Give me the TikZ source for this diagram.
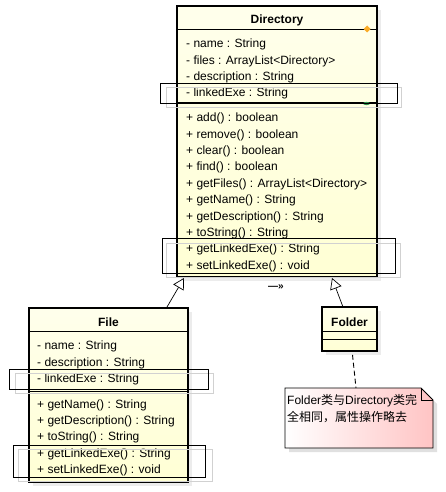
\documentclass[tikz,border=0pt]{standalone}
\usepackage{fontspec}
\setmainfont{Liberation Sans}
\newfontfamily\cjk{Noto Sans CJK SC}
\usepackage{tikz}
\usetikzlibrary{arrows.meta, calc, shadows}
\definecolor{umlYellow}{RGB}{255,255,212}
\definecolor{notePink}{RGB}{255,196,196}
\definecolor{handleOrange}{RGB}{250,172,40}
\definecolor{handleGreen}{RGB}{50,150,80}
\tikzset{
  classbox/.style={draw=black, line width=1.6pt, top color=umlYellow!45, bottom color=umlYellow,
    drop shadow={shadow xshift=4pt, shadow yshift=-4pt, fill=black!14}, inner sep=0pt},
  sepline/.style={draw=black, line width=0.8pt},
  classtitle/.style={anchor=base, inner sep=0pt, font=\fontsize{12}{14}\selectfont\bfseries},
  members/.style={anchor=north west, align=left, inner sep=0pt, font=\fontsize{12}{16.4}\selectfont},
  markbox/.style={draw=black, line width=0.7pt},
  markshade/.style={draw=black!18, line width=0.7pt},
  generalize/.style={-{Triangle[open, length=11pt, width=12pt, fill=white]}, line width=0.7pt},
}

\begin{document}
\begin{tikzpicture}[x=1pt, y=-1pt]
  \useasboundingbox[fill=white] (0,0) rectangle (446,492);

  % classes
  \node[classbox, minimum width=200pt, minimum height=271pt] (dir) at (277,141.5) {};
  \node[classbox, minimum width=159pt, minimum height=174pt] (file) at (108.5,395) {};
  \node[classbox, minimum width=55pt, minimum height=44pt] (folder) at (349.5,329) {};

  \draw[sepline] ($ (dir.north west)+(0,24) $) -- ($ (dir.north east)+(0,24) $);
  \draw[sepline] ($ (dir.north west)+(0,97) $) -- ($ (dir.north east)+(0,97) $);
  \draw[sepline] ($ (file.north west)+(0,24) $) -- ($ (file.north east)+(0,24) $);
  \draw[sepline] ($ (file.north west)+(0,84) $) -- ($ (file.north east)+(0,84) $);
  \draw[sepline] ($ (folder.north west)+(0,25) $) -- ($ (folder.north east)+(0,25) $);
  \draw[sepline] ($ (folder.north west)+(0,33) $) -- ($ (folder.north east)+(0,33) $);

  \node[classtitle] (dirTitle) at (277,23.5) {Directory};
  \node[classtitle] (fileTitle) at (108.5,326) {File};
  \node[classtitle] (folderTitle) at (349.5,326) {Folder};

  \node[members] (dirAttr) at (186,36) {\strut- name : String\\- files : ArrayList<Directory>\\- description : String\\- linkedExe : String};
  \node[members] (dirOps) at (186,110) {\strut+ add() : boolean\\+ remove() : boolean\\+ clear() : boolean\\+ find() : boolean\\+ getFiles() : ArrayList<Directory>\\+ getName() : String\\+ getDescription() : String\\+ toString() : String\\+ getLinkedExe() : String\\+ setLinkedExe() : void};
  \node[members] (fileAttr) at (37,338) {\strut- name : String\\- description : String\\- linkedExe : String};
  \node[members] (fileOps) at (37,396.5) {\strut+ getName() : String\\+ getDescription() : String\\+ toString() : String\\+ getLinkedExe() : String\\+ setLinkedExe() : void};

  % selection handles
  \fill[handleOrange] (367,25.5) -- (370.5,29) -- (367,32.5) -- (363.5,29) -- cycle;
  \fill[handleGreen] (366.5,103.5) ellipse (3.5pt and 1.6pt);

  % marked rows
  \draw[markshade] (166,87) rectangle (401,107);
  \draw[markbox] (160,83) rectangle (397,103);
  \draw[markshade] (166,243) rectangle (400,277);
  \draw[markbox] (162,238) rectangle (395,273);
  \draw[markshade] (15,373) rectangle (213,393);
  \draw[markbox] (9,369) rectangle (208,389);
  \draw[markshade] (18,449) rectangle (212,481);
  \draw[markbox] (13,445) rectangle (205,477);

  % inheritance
  \coordinate (fileTop) at (167,307);
  \coordinate (dirLeft) at (184,278);
  \coordinate (folderTop) at (343,307);
  \coordinate (dirRight) at (332,278);
  \draw[generalize] (fileTop) -- (dirLeft);
  \draw[generalize] (folderTop) -- (dirRight);
  \node[inner sep=0pt, font=\fontsize{10}{12}\selectfont\bfseries] (moveMark) at (276,287) {—»};

  % note
  \coordinate (noteNW) at (285,388);
  \coordinate (noteNE) at (433,388);
  \coordinate (noteSE) at (433,448);
  \coordinate (noteSW) at (285,448);
  \fill[black!12] ($ (noteNW)+(4,4) $) -- ($ (noteNE)+(-8,4) $) -- ($ (noteNE)+(4,16) $) -- ($ (noteSE)+(4,4) $) -- ($ (noteSW)+(4,4) $) -- cycle;
  \shade[left color=white, right color=notePink, draw=black, line width=0.8pt]
    (noteNW) -- ($ (noteNE)+(-12,0) $) -- ($ (noteNE)+(0,12) $) -- (noteSE) -- (noteSW) -- cycle;
  \draw[line width=0.8pt] ($ (noteNE)+(-12,0) $) -- ($ (noteNE)+(-12,12) $) -- ($ (noteNE)+(0,12) $);
  \node[anchor=base west, align=left, inner sep=0pt, font=\fontsize{12}{17}\selectfont] (noteText) at (287,421.5)
    {Folder{\cjk 类与}Directory{\cjk 类完}\\{\cjk 全相同，属性操作略去}};
  \coordinate (noteTop) at (356,388);
  \draw[dash pattern=on 5pt off 3pt, line width=0.9pt] ($ (folder.south)+(3,3) $) -- (noteTop);

\end{tikzpicture}
\end{document}
